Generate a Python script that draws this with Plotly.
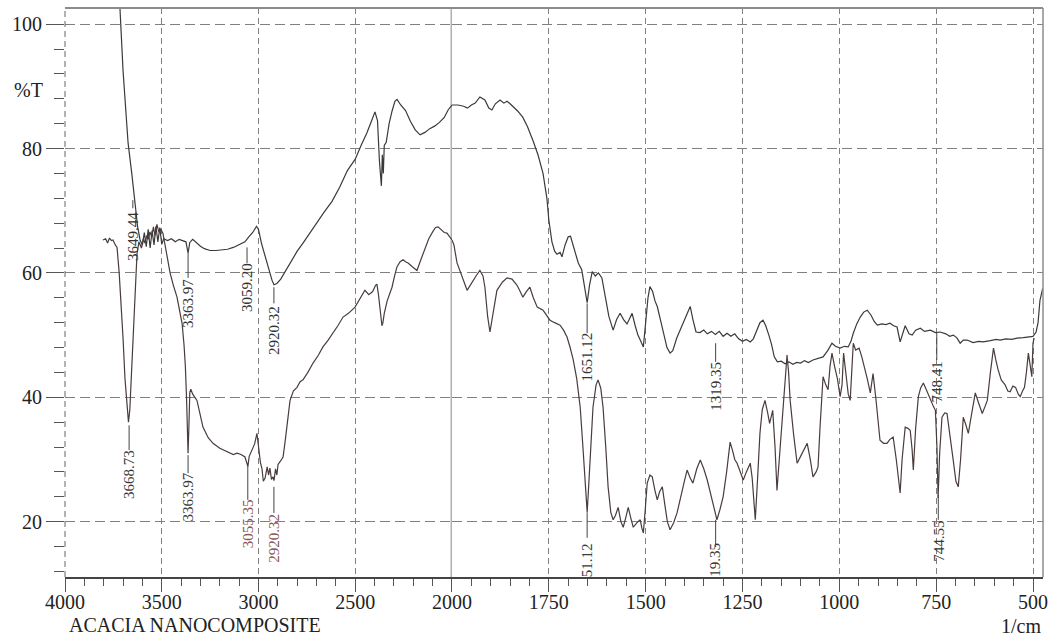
import plotly.graph_objects as go

# ---------------- data (wavenumber 1/cm, %T) ----------------
wn_upper = [3720, 3716, 3700, 3674, 3655, 3638, 3625, 3612, 3600, 3590, 3580, 3570, 3560, 3550, 3540, 3530,
            3520, 3510, 3500, 3490, 3470, 3450, 3430, 3410, 3390, 3375, 3364, 3355, 3340, 3320, 3300,
            3280, 3250, 3220, 3190, 3160, 3130, 3100, 3070, 3050, 3030, 3010, 3000, 2985, 2965, 2945,
            2930, 2920, 2905, 2885, 2860, 2830, 2800, 2770, 2740, 2700, 2660, 2620, 2580, 2540, 2500,
            2470, 2440, 2415, 2398, 2385, 2375, 2365, 2360, 2355, 2350, 2340, 2325, 2310, 2295, 2284,
            2265, 2240, 2215, 2190, 2165, 2140, 2115, 2090, 2065, 2040, 2020, 2000,
            1985, 1970, 1960, 1950, 1940, 1928, 1915, 1905, 1897, 1888, 1876, 1866, 1858, 1850, 1842,
            1830, 1817, 1805, 1791, 1778, 1765, 1755, 1750, 1742, 1735, 1729, 1721, 1716, 1708, 1700,
            1694, 1688, 1680, 1674, 1665, 1658, 1651, 1645, 1638, 1630, 1622, 1613, 1604, 1595, 1584,
            1575, 1566, 1557, 1548, 1540, 1535, 1527, 1520, 1514, 1506, 1500, 1494, 1489, 1482, 1476,
            1470, 1462, 1453, 1445, 1437, 1430, 1420, 1411, 1400, 1390, 1385, 1378, 1370, 1360, 1350,
            1341, 1330, 1320, 1310, 1300, 1290, 1280, 1270, 1260, 1250, 1240, 1230, 1222, 1212, 1205,
            1197, 1190, 1182, 1175, 1168, 1160, 1150, 1140, 1130, 1120, 1110, 1100, 1090, 1080, 1068,
            1055, 1042, 1030, 1019, 1010, 998, 987, 977, 970, 964, 955, 946, 937, 928, 918, 910, 902,
            890, 880, 869, 860, 851, 843, 836, 830, 820, 812, 803, 791, 780, 765, 752, 740, 725, 715,
            706, 697, 688, 680, 670, 655, 640, 629, 610, 595, 585, 570, 555, 541, 525, 510, 500, 492,
            487, 482, 478, 475]
t_upper = [106, 102.6, 92.5, 80.9, 76, 70.6, 67.5, 65.3, 64.5, 66.5, 64.2, 67, 64, 66.8, 64.5, 67.5,
           65, 67.3, 64.6, 65.5, 65.2, 65.5, 65, 65.4, 65.2, 65, 63.2, 64.9, 65.4, 64.8, 64.3,
           63.9, 63.6, 63.6, 63.7, 63.8, 64.1, 64.5, 65, 65.8, 66.5, 67.5, 67, 64.8, 62.5, 60.5,
           58.8, 58.1, 58.3, 59, 60.3, 62, 63.5, 64.8, 66.2, 68, 69.8, 71.5, 73.8, 76.5, 78.3,
           80.5, 82.5, 84.5, 85.9, 84.5, 78, 74, 79, 76, 80.5, 81, 84, 86, 87.6, 87.9,
           87, 86.1, 84.4, 83, 82.2, 82.6, 83.2, 83.6, 84.2, 85, 86.2, 87,
           87, 86.8, 86.5, 87, 87.3, 88.3, 87.8, 86.5, 86.2, 87.2, 87.8, 87.3, 87.6, 87.2, 86.7,
           86, 85, 83.5, 81.3, 79, 76, 72, 68.5, 65, 63.5, 63, 63.3, 62.6, 64.5, 65.8,
           65.9, 64.5, 63, 61.6, 60.5, 58, 55.2, 58, 60.2, 59.5, 60, 59.2, 56, 53, 50.8,
           52.5, 53.5, 52.5, 51.8, 52.8, 53.5, 51.5, 50, 49.2, 48.1, 52, 56, 57.8, 57, 55.5,
           54.6, 52.5, 50, 48, 47.1, 47.5, 49.5, 50.8, 52.5, 54, 54.6, 52.5, 50.5, 50.4, 50.8,
           50.2, 50.6, 50.1, 50.6, 49.8, 50.3, 49.8, 50.2, 49.4, 49, 49.3, 48.9, 49.4, 51, 52,
           52.4, 51.5, 50, 48.5, 46.5, 45.7, 45.8, 45.4, 45.7, 45.3, 45.6, 45.5, 45.9, 45.6, 46,
           46.3, 46.5, 47.5, 48.7, 48.2, 47.9, 48.2, 48.1, 49, 50.3, 51.8, 52.9, 53.7, 54, 53.2, 52.2, 51.6,
           51.8, 51.7, 51.9, 51.5, 51.3, 48.9, 50.5, 51.5, 50.2, 50, 50.8, 51.1, 50.6, 50.8, 50.4, 50.5, 50.2, 49.8,
           50, 49.6, 48.7, 49.2, 49.2, 48.8, 49, 48.9, 49.1, 49.3, 49.2, 49.4, 49.3, 49.5, 49.6, 49.7, 49.8, 50.5,
           52, 55.6, 57, 57.5]

wn_lower = [3804, 3790, 3780, 3770, 3760, 3752, 3740, 3731, 3720, 3710, 3700, 3690, 3680, 3672, 3665, 3658,
            3649, 3638, 3628, 3618, 3605, 3595, 3587, 3578, 3570, 3561, 3552, 3543, 3535, 3525, 3515,
            3505, 3494, 3480, 3470, 3457, 3440, 3421, 3405, 3395, 3385, 3378, 3372, 3367, 3364, 3360,
            3355, 3350, 3340, 3318, 3300, 3287, 3260, 3235, 3200, 3163, 3130, 3111, 3090, 3070, 3060,
            3055, 3048, 3035, 3020, 3008, 2998, 2990, 2982, 2975, 2966, 2955, 2948, 2941, 2933, 2925,
            2920, 2912, 2905, 2899, 2885, 2873, 2862, 2853, 2845, 2837, 2820, 2801, 2785, 2770, 2745,
            2718, 2690, 2667, 2640, 2615, 2590, 2563, 2535, 2501, 2475, 2450, 2430, 2410, 2395, 2388,
            2380, 2372, 2362, 2357, 2350, 2335, 2320, 2310, 2297, 2284, 2268, 2253, 2240, 2227, 2205,
            2181, 2160, 2140, 2120, 2100, 2085, 2072, 2055, 2040, 2026, 2015, 2000,
            1995, 1987, 1975, 1961, 1953, 1946, 1938, 1928, 1920, 1915, 1908, 1902, 1895, 1884, 1870,
            1858, 1845, 1832, 1824, 1817, 1808, 1799, 1790, 1780, 1765, 1755, 1747, 1735, 1721, 1712,
            1703, 1695, 1687, 1678, 1669, 1662, 1656, 1651, 1646, 1640, 1636, 1628, 1623, 1616, 1610,
            1603, 1597, 1590, 1584, 1578, 1571, 1564, 1558, 1552, 1545, 1538, 1532, 1523, 1514, 1510,
            1506, 1501, 1496, 1489, 1483, 1476, 1470, 1464, 1457, 1450, 1444, 1437, 1428, 1419, 1410,
            1400, 1393, 1385, 1378, 1368, 1359, 1350, 1341, 1332, 1324, 1316, 1308, 1300, 1291, 1282,
            1276, 1270, 1264, 1256, 1248, 1240, 1230, 1225, 1217, 1211, 1205, 1199, 1192, 1185, 1180,
            1172, 1166, 1161, 1155, 1148, 1140, 1135, 1131, 1127, 1118, 1109, 1100, 1090, 1083, 1075,
            1068, 1060, 1055, 1050, 1042, 1035, 1029, 1024, 1019, 1012, 1005, 998, 993, 989, 983,
            977, 972, 968, 964, 958, 949, 942, 935, 928, 920, 913, 906, 900, 895, 886,
            877, 870, 861, 853, 846, 843, 838, 830, 823, 817, 812, 809, 803, 796, 790,
            783, 774, 765, 757, 752, 748, 745, 741, 735, 728, 722, 714, 706, 699, 693,
            687, 680, 673, 667, 658, 649, 640, 631, 624, 618, 610, 602, 596, 590, 582,
            572, 565, 559, 552, 545, 538, 533, 527, 522, 517, 512, 507, 503, 500, 497]
t_lower = [65.3, 65.5, 64.8, 65.6, 65.2, 65.3, 64.5, 64.1, 60, 55, 49.5, 43, 38.5, 36, 38, 43,
           50.3, 58, 63, 65, 64, 65.5, 64.8, 66, 65.4, 66.6, 65.8, 67.4, 66, 67.8, 66.6,
           67, 66.4, 64, 62, 60, 58, 56.1, 53.5, 51.9, 48.5, 45, 40, 34, 31, 35,
           40.8, 41.3, 40.5, 39.5, 37, 35.2, 33.5, 32.6, 31.8, 31.2, 30.8, 31, 30.8, 30.4, 29.5,
           28.9, 30.5, 31.5, 32.5, 34.2, 31.5, 29.5, 28.5, 26.5, 27, 28.8, 27.5, 28.6, 26.8, 27.2,
           26.6, 28.5, 27.5, 29.2, 29.8, 30.4, 33, 35.2, 37.5, 39.5, 41, 41.6, 42.5, 42.8, 44,
           45.5, 46.8, 48.1, 49.2, 50.3, 51.5, 52.9, 53.5, 54.5, 56, 57.2, 56.5, 57, 58, 58.2,
           56.5, 54.5, 51.5, 52, 53.5, 55.5, 57, 57.7, 59.5, 61, 61.8, 62.1, 61.8, 61.6, 61,
           60.4, 62.2, 64, 65.5, 66.6, 67.3, 67.4, 66.9, 66.5, 66.4, 66, 65.3,
           64.5, 61.6, 59.5, 57.2, 58, 58.8, 59.5, 60.4, 59.5, 57.7, 53, 50.5, 53, 57.2, 58.5,
           59.2, 59, 58, 57, 56.1, 57, 57.7, 56, 54.5, 54, 53, 52.4, 52, 51.6, 50.8,
           49.7, 48, 46, 43, 38.4, 32, 26, 21.5, 27, 34, 38.4, 42, 42.8, 41.5, 38.4,
           32, 25.6, 21.5, 20.3, 21, 22.3, 20, 19.1, 20.5, 22.3, 20.5, 19.1, 19.8, 20.3, 19,
           18.2, 22, 26.2, 27.5, 27.2, 25, 23.5, 24.8, 25.6, 22.5, 20, 18.7, 19.8, 21.4, 24,
           26.5, 28.3, 27, 26.2, 28.5, 29.9, 28.5, 26.7, 24.5, 22.5, 20.3, 22, 24, 28, 32.8,
           31.5, 30, 29.4, 28, 26.7, 28, 29.4, 27, 20.3, 27, 34.2, 38, 39.5, 37.5, 35.8,
           37.9, 32, 25, 30, 35.2, 42, 46.8, 44, 39.5, 34, 29.4, 30.5, 31.8, 32.6, 30,
           27.2, 28, 28.8, 35, 43.3, 42, 41.2, 45, 47.1, 44.9, 43, 40.1, 42, 47.1, 44,
           40.5, 39.5, 44, 48.7, 47.6, 47.9, 46.5, 44.9, 43, 40.7, 43.8, 40, 36, 33.1, 32.6,
           32.6, 33.2, 33.6, 30, 26, 24.6, 30, 35.2, 35, 34.7, 31.5, 28.3, 35, 40.1, 41.5,
           42.3, 41, 39.5, 38.5, 37.9, 32, 23.8, 31, 36.8, 37.5, 37.4, 34, 29.9, 26.5, 25.6,
           30, 36.8, 35.5, 34.2, 37.5, 40.7, 39, 37.4, 38.5, 39.5, 44, 47.9, 46, 44.4, 42.8,
           42, 41, 40.9, 41.8, 41.6, 40.5, 40.1, 41, 41.6, 44, 47.1, 45, 43.3, 48.7, 49.5]

# peak labels: text, wavenumber, label centre %T, connector from / to %T
label_text = ["3649.44", "3363.97", "3059.20", "2920.32", "1651.12", "1319.35", "748.41",
              "3668.73", "3363.97", "3055.35", "2920.32", "51.12", "19.35", "744.55"]
label_wn = [3649.44, 3363.97, 3059.20, 2920.32, 1651.12, 1319.35, 748.41,
            3668.73, 3363.97, 3055.35, 2920.32, 1651.12, 1319.35, 744.55]
label_t = [65.9, 55.0, 57.6, 50.8, 46.4, 41.8, 42.5,
           27.5, 23.9, 19.7, 17.4, 13.8, 13.8, 16.8]
line_t0 = [71.7, 63.2, 64.1, 57.7, 55.1, 48.7, 50.3,
           35.5, 30.7, 29.1, 25.6, 21.5, 20.3, 24.3]
line_t1 = [70.4, 59.2, 61.6, 55.1, 50.3, 45.7, 46.0,
           31.5, 27.8, 23.5, 21.4, 17.4, 15.9, 20.3]
label_color = ["#333333"] * 7 + ["#3a3a3a", "#3a3a3a", "#8a5555", "#8a5555", "#3a3a3a", "#3a3a3a", "#3a3a3a"]

y_ticks = [20, 40, 60, 80, 100]
x_ticks_left = [4000, 3500, 3000, 2500, 2000]
x_ticks_right = [1750, 1500, 1250, 1000, 750, 500]

BREAK = 2000
SPLIT = 0.3957
FONT = "Liberation Serif"


def split(wn, t):
    left = [(w, v) for w, v in zip(wn, t) if w >= BREAK]
    right = [(w, v) for w, v in zip(wn, t) if w <= BREAK]
    return left, right


fig = go.Figure()
for wn, t, col in [(wn_upper, t_upper, "#3a3a3a"), (wn_lower, t_lower, "#4a3c3c")]:
    left, right = split(wn, t)
    fig.add_trace(go.Scatter(x=[p[0] for p in left], y=[p[1] for p in left], mode="lines",
                             line=dict(color=col, width=1.2), xaxis="x", yaxis="y", hoverinfo="skip"))
    fig.add_trace(go.Scatter(x=[p[0] for p in right], y=[p[1] for p in right], mode="lines",
                             line=dict(color=col, width=1.2), xaxis="x2", yaxis="y", hoverinfo="skip"))

shapes = []
annotations = []
for txt, w, ty, a, b, c in zip(label_text, label_wn, label_t, line_t0, line_t1, label_color):
    xr = "x" if w >= BREAK else "x2"
    shapes.append(dict(type="line", xref=xr, yref="y", x0=w, x1=w, y0=a, y1=b,
                       line=dict(color="#444444", width=1)))
    annotations.append(dict(text=txt, xref=xr, yref="y", x=w, y=ty, showarrow=False, textangle=-90,
                            xanchor="center", yanchor="middle",
                            font=dict(family=FONT, size=15, color=c)))

# frame, separator at 2000, left dashed edge
shapes += [
    dict(type="line", xref="x", yref="paper", x0=BREAK, x1=BREAK, y0=0, y1=1,
         line=dict(color="#b0b0b0", width=3), layer="below"),
    dict(type="line", xref="paper", yref="paper", x0=0, x1=1, y0=1, y1=1,
         line=dict(color="#8c8c8c", width=2)),
    dict(type="line", xref="paper", yref="paper", x0=1, x1=1, y0=0, y1=1,
         line=dict(color="#8c8c8c", width=1.5)),
    dict(type="line", xref="paper", yref="paper", x0=0, x1=0, y0=0, y1=1,
         line=dict(color="#666666", width=1, dash="6px,4px")),
]

annotations += [
    dict(text="%T", xref="paper", yref="y", x=-0.0542, y=89.4, xanchor="left", yanchor="middle",
         showarrow=False, font=dict(family=FONT, size=20, color="#222222")),
    dict(text="ACACIA NANOCOMPOSITE", xref="paper", yref="paper", x=0.002, y=-0.0844,
         xanchor="left", yanchor="middle", showarrow=False,
         font=dict(family=FONT, size=20, color="#222222")),
    dict(text="1/cm", xref="paper", yref="paper", x=1.0, y=-0.0862, xanchor="right", yanchor="middle",
         showarrow=False, font=dict(family=FONT, size=20, color="#222222")),
]

xcommon = dict(ticks="outside", ticklen=13, tickcolor="#555555", tickwidth=1,
               showgrid=True, gridcolor="#808080", gridwidth=1, griddash="6px,4px",
               showline=True, linecolor="#444444", linewidth=1.5, zeroline=False,
               ticklabelstandoff=-7, automargin=False,
               tickfont=dict(family=FONT, size=20, color="#222222"), anchor="y")

fig.update_layout(
    width=1050, height=637, autosize=False,
    margin=dict(l=65, r=7, t=8, b=60, pad=0),
    paper_bgcolor="white", plot_bgcolor="white",
    showlegend=False,
    xaxis=dict(domain=[0, SPLIT], range=[4000, BREAK], tickmode="array", tickvals=x_ticks_left,
               minor=dict(dtick=100, tick0=0, ticks="outside", ticklen=7, tickcolor="#555555", showgrid=False),
               **xcommon),
    xaxis2=dict(domain=[SPLIT, 1], range=[BREAK, 474.2], tickmode="array", tickvals=x_ticks_right,
                minor=dict(dtick=50, tick0=0, ticks="outside", ticklen=7, tickcolor="#555555", showgrid=False),
                **xcommon),
    yaxis=dict(range=[11.1, 102.6], anchor="x", tickmode="array", tickvals=y_ticks,
               ticks="outside", ticklen=18, tickcolor="#555555", automargin=False,
               minor=dict(dtick=4, tick0=0, ticks="outside", ticklen=10, tickcolor="#555555", showgrid=False),
               showgrid=True, gridcolor="#808080", gridwidth=1, griddash="10px,5px",
               showline=False, zeroline=False,
               tickfont=dict(family=FONT, size=20, color="#222222")),
    shapes=shapes,
    annotations=annotations,
)

fig.write_html("out.html", config={"displayModeBar": False},
               post_script="document.body.style.margin='0px';document.body.style.overflow='hidden';")
